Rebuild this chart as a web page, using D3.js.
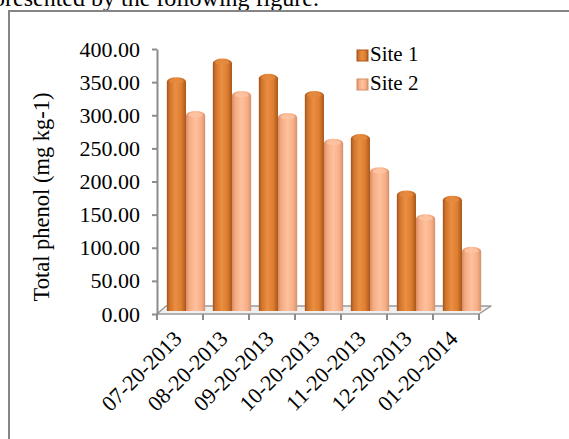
<!DOCTYPE html>
<html>
<head>
<meta charset="utf-8">
<script src="https://cdn.jsdelivr.net/npm/d3@7/dist/d3.min.js"></script>
<style>
  html, body { margin: 0; padding: 0; background: #fff; overflow: hidden; }
  svg { display: block; }
  text { font-family: "Liberation Serif", "Times New Roman", serif; fill: #000; }
</style>
</head>
<body>
<svg id="chart" width="569" height="439"></svg>
<script>
// Sampling dates and total phenol content at the two sites
const dates = ["07-20-2013", "08-20-2013", "09-20-2013", "10-20-2013", "11-20-2013", "12-20-2013", "01-20-2014"];
const site1 = [353, 381, 358, 332, 267, 182, 174];
const site2 = [302, 332, 299, 260, 217, 146, 97];
const seriesNames = ["Site 1", "Site 2"];
const yTicks = [0, 50, 100, 150, 200, 250, 300, 350, 400];

const serif = "'Liberation Serif', 'Times New Roman', serif";
const svg = d3.select("#chart");
const defs = svg.append("defs");

// Paragraph line running above the figure box
svg.append("text")
  .attr("x", -7).attr("y", 6)
  .style("font-family", serif)
  .style("font-size", "24px")
  .text("presented by the following figure.");

// Figure frame
svg.append("rect")
  .attr("x", 9).attr("y", 11)
  .attr("width", 580).attr("height", 450)
  .attr("fill", "#fff")
  .attr("stroke", "#858585")
  .attr("stroke-width", 2);

const plot = { left: 157, right: 479, top: 49, bottom: 314 };
const depth = { dx: 9, dy: -8 };      // floor depth offset (back edge)
const barShift = { dx: 6, dy: -3 };    // bars stand mid-way on the floor

const x = d3.scaleBand().domain(dates).range([plot.left, plot.right]).paddingInner(0).paddingOuter(0);
const xs = d3.scaleBand().domain(seriesNames).range([0, x.bandwidth()]).paddingInner(0).paddingOuter(0.2);
const y = d3.scaleLinear().domain([0, 400]).range([plot.bottom, plot.top]);

// Cylinder shading
function grad(id, stops) {
  const g = defs.append("linearGradient").attr("id", id)
    .attr("x1", "0%").attr("x2", "100%").attr("y1", "0%").attr("y2", "0%");
  stops.forEach(s => g.append("stop").attr("offset", s[0]).attr("stop-color", s[1]));
}
grad("g1", [["0", "#a4531a"], ["0.15", "#d0742c"], ["0.45", "#ea8e42"], ["0.75", "#de7e31"], ["1", "#a9581c"]]);
grad("g2", [["0", "#d98d66"], ["0.18", "#f6ab83"], ["0.5", "#fdc19d"], ["0.8", "#f8ae86"], ["1", "#d3906c"]]);
const fills = { "Site 1": "url(#g1)", "Site 2": "url(#g2)" };
const capFills = { "Site 1": "#e48a3e", "Site 2": "#fcc4a2" };

// Floor of the 3-D plot area
const floor = [
  [plot.left, plot.bottom],
  [plot.right, plot.bottom],
  [plot.right + depth.dx + 3, plot.bottom + depth.dy],
  [plot.left + depth.dx, plot.bottom + depth.dy]
];
svg.append("path")
  .attr("d", "M" + floor.map(p => p.join(",")).join("L") + "Z")
  .attr("fill", "#efefef")
  .attr("stroke", "#9a9a9a")
  .attr("stroke-width", 1.5)
  .attr("stroke-linejoin", "round");

// Y axis
const yAxis = svg.append("g")
  .attr("transform", `translate(${plot.left},0)`)
  .call(d3.axisLeft(y).tickValues(yTicks).tickFormat(d3.format(".2f")).tickSize(5).tickSizeOuter(0).tickPadding(12));
yAxis.attr("font-family", null).attr("font-size", null);
yAxis.select(".domain").attr("stroke", "#8c8c8c").attr("stroke-width", 2);
yAxis.selectAll(".tick line").attr("stroke", "#8c8c8c").attr("stroke-width", 2);
yAxis.selectAll(".tick text")
  .style("font-size", "22px")
  .style("font-family", serif)
  .attr("fill", "#000");

// X axis tick marks at category boundaries
const bounds = dates.map(d => x(d)).concat([x(dates[dates.length - 1]) + x.bandwidth()]);
svg.append("g").selectAll("line").data(bounds).join("line")
  .attr("x1", d => d).attr("x2", d => d)
  .attr("y1", plot.bottom).attr("y2", plot.bottom + 6)
  .attr("stroke", "#8c8c8c").attr("stroke-width", 2);

// X labels
svg.append("g").selectAll("text").data(dates).join("text")
  .attr("transform", d => `translate(${x(d) + x.bandwidth() / 2 + 3},${plot.bottom + 26}) rotate(-45)`)
  .attr("text-anchor", "end")
  .style("font-family", serif)
  .style("font-size", "22px")
  .text(d => d);

// Bars (cylinders with rounded tops)
const rows = dates.map((d, i) => ({ date: d, values: [
  { name: "Site 1", value: site1[i] },
  { name: "Site 2", value: site2[i] }
] }));
const base = y(0) + barShift.dy;
function cylinder(x0, w, top) {
  const rx = w / 2, ry = 4.5;
  return `M${x0},${base}L${x0},${top + ry}A${rx},${ry} 0 0 1 ${x0 + w},${top + ry}L${x0 + w},${base}Z`;
}
const groups = svg.append("g").selectAll("g").data(rows).join("g")
  .attr("transform", d => `translate(${x(d.date) + barShift.dx},0)`);
groups.selectAll("path.bar").data(d => d.values).join("path")
  .attr("class", "bar")
  .attr("d", d => cylinder(xs(d.name), xs.bandwidth(), y(d.value) + barShift.dy))
  .attr("fill", d => fills[d.name]);
// highlight on the cap
groups.selectAll("ellipse.cap").data(d => d.values).join("ellipse")
  .attr("class", "cap")
  .attr("cx", d => xs(d.name) + xs.bandwidth() / 2)
  .attr("cy", d => y(d.value) + barShift.dy + 4)
  .attr("rx", xs.bandwidth() / 2 - 2.5)
  .attr("ry", 2.5)
  .attr("fill", d => capFills[d.name])
  .attr("opacity", 0.8);

// Y axis title
svg.append("text")
  .attr("transform", `translate(49,197) rotate(-90)`)
  .attr("text-anchor", "middle")
  .style("font-family", serif)
  .style("font-size", "22.5px")
  .text("Total phenol (mg kg-1)");

// Legend
const legend = svg.append("g").attr("transform", "translate(357,50)");
const items = legend.selectAll("g").data(seriesNames).join("g")
  .attr("transform", (d, i) => `translate(0,${i * 29})`);
items.append("rect")
  .attr("width", 11).attr("height", 11)
  .attr("fill", d => fills[d])
  .attr("stroke", d => d === "Site 1" ? "#a9581c" : "#d3906c")
  .attr("stroke-width", 1);
items.append("text")
  .attr("x", 13).attr("y", 11)
  .style("font-family", serif)
  .style("font-size", "21px")
  .text(d => d);
</script>
</body>
</html>
